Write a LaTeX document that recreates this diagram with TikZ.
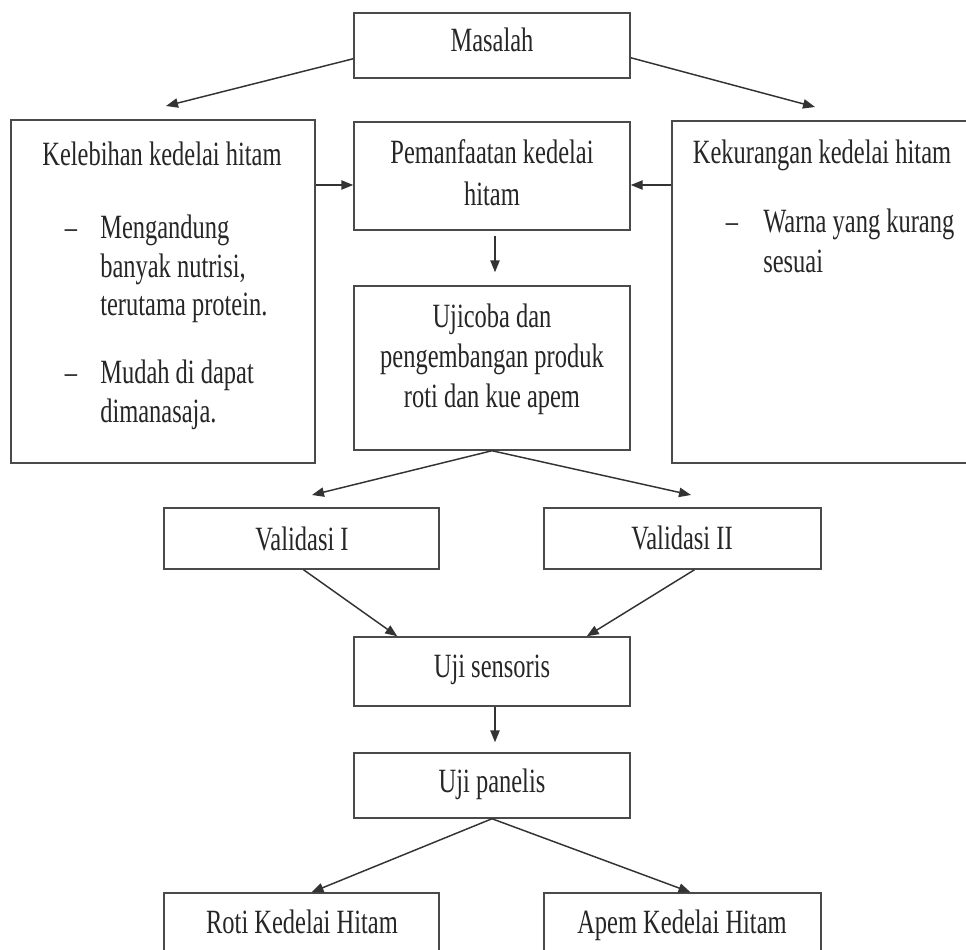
\documentclass[tikz,border=0pt]{standalone}
\usepackage{fontspec}
\setmainfont{Liberation Serif}[FakeStretch=0.72]
\usetikzlibrary{arrows.meta,calc,fit}
\definecolor{boxcol}{HTML}{4A4A4A}
\definecolor{arrcol}{HTML}{333333}
\definecolor{txtcol}{HTML}{262626}
\begin{document}
\begin{tikzpicture}[x=0.75pt,y=-0.75pt,
  box/.style={draw=boxcol, line width=1.1pt, inner sep=0pt, fit={#1}},
  txt/.style={anchor=base, inner sep=0pt, text=txtcol, font=\fontsize{25.5pt}{30pt}\selectfont},
  txtl/.style={txt, anchor=base west},
  arr/.style={draw=arrcol, line width=1.1pt, -{Triangle[length=9pt,width=7pt]}}]
\clip (0,0) rectangle (966,949);
\fill[white] (0,0) rectangle (966,949);
% boxes
\node[box={(354,13) (630,78)}] (masalah) {};
\node[box={(11,120) (315,463)}] (kel) {};
\node[box={(354,122) (630,230)}] (pem) {};
\node[box={(672,121) (975,463)}] (kek) {};
\node[box={(354,286) (630,450)}] (uji) {};
\node[box={(164,508) (439,569)}] (val1) {};
\node[box={(544,508) (821,569)}] (val2) {};
\node[box={(354,637) (630,706)}] (sens) {};
\node[box={(354,753) (630,818)}] (pan) {};
\node[box={(164,893) (439,965)}] (roti) {};
\node[box={(544,893) (821,965)}] (apem) {};
% texts
\node[txt] (tmas) at (492,52) {Masalah};
\node[txt] (tkel) at (162,165) {Kelebihan kedelai hitam};
\node[txt] (dk1) at (71,238) {–};
\node[txtl] (tk1a) at (100,238) {Mengandung};
\node[txtl] (tk1b) at (100,277) {banyak nutrisi,};
\node[txtl] (tk1c) at (100,315) {terutama protein.};
\node[txt] (dk2) at (71,383) {–};
\node[txtl] (tk2a) at (100,383) {Mudah di dapat};
\node[txtl] (tk2b) at (100,422) {dimanasaja.};
\node[txt] (tpema) at (492,163) {Pemanfaatan kedelai};
\node[txt] (tpemb) at (492,205) {hitam};
\node[txt] (tkek) at (822,163) {Kekurangan kedelai hitam};
\node[txt] (dr1) at (732,232) {–};
\node[txtl] (tr1a) at (763,232) {Warna yang kurang};
\node[txtl] (tr1b) at (763,272) {sesuai};
\node[txt] (tujia) at (492,327) {Ujicoba dan};
\node[txt] (tujib) at (492,367) {pengembangan produk};
\node[txt] (tujic) at (492,407) {roti dan kue apem};
\node[txt] (tval1) at (302,550) {Validasi I};
\node[txt] (tval2) at (682,549) {Validasi II};
\node[txt] (tsens) at (492,677) {Uji sensoris};
\node[txt] (tpan) at (492,792) {Uji panelis};
\node[txt] (troti) at (302,933) {Roti Kedelai Hitam};
\node[txt] (tapem) at (682,933) {Apem Kedelai Hitam};
% free ends
\coordinate (ekel) at (166,106);
\coordinate (ekek) at (815,107);
\coordinate (eval1) at (312,495);
\coordinate (eval2) at (691,495);
% connectors
\draw[arr] ($(masalah.south west)+(0,-20)$) -- (ekel);
\draw[arr] ($(masalah.south east)+(0,-21)$) -- (ekek);
\draw[arr] (kel.east |- {$(pem.west)+(0,9)$}) -- ($(pem.west)+(0,9)$);
\draw[arr] (kek.west |- {$(pem.east)+(0,9)$}) -- ($(pem.east)+(0,9)$);
\draw[arr] ($(pem.south)+(3,5)$) -- ($(uji.north)+(3,-13)$);
\draw[arr] (uji.south) -- (eval1);
\draw[arr] (uji.south) -- (eval2);
\draw[arr] ($(val1.south)+(2,0)$) -- ($(sens.north west)+(44,0)$);
\draw[arr] ($(val2.south)+(12,0)$) -- ($(sens.north east)+(-44,0)$);
\draw[arr] ($(sens.south)+(3,0)$) -- ($(pan.north)+(3,-10)$);
\draw[arr] (pan.south) -- ($(roti.north)+(10,0)$);
\draw[arr] (pan.south) -- ($(apem.north)+(8,0)$);
\end{tikzpicture}
\end{document}
